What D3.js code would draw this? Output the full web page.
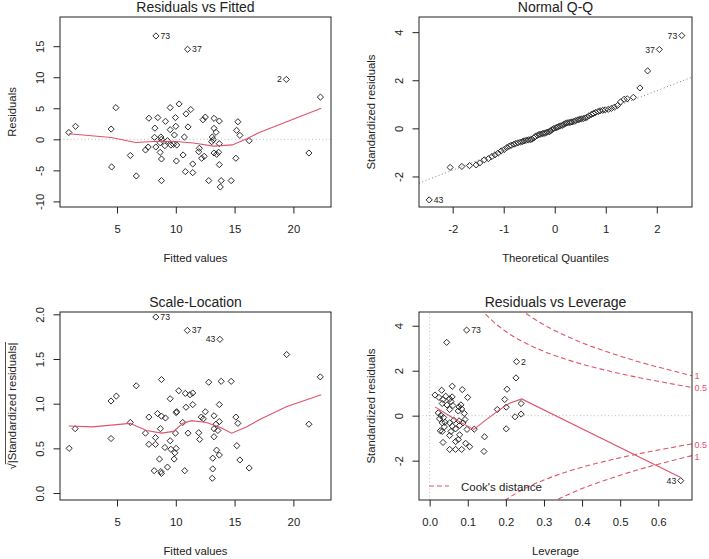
<!DOCTYPE html>
<html>
<head>
<meta charset="utf-8">
<script src="https://cdn.jsdelivr.net/npm/d3@7"></script>
<style>
  body { margin: 0; background: #fff; }
  svg text { font-family: "Liberation Sans", Arial, sans-serif; fill: #222; }
</style>
</head>
<body>
<svg id="chart" width="709" height="559"></svg>
<script>
// RESIDUALS VS FITTED
const rfFitted = [0.9, 1.47, 4.5, 4.9, 4.54, 6.13, 6.64, 7.71, 8.47, 9.12, 9.52, 10.28, 9.97, 11.27, 10.87,
  8.22, 9.52, 10.0, 11.04, 9.88, 10.73, 8.19, 8.73, 8.78, 8.67, 9.29, 9.58, 9.07, 9.8, 10.08, 8.3, 7.65, 7.42,
  8.67, 8.78, 10.05, 10.62, 11.44, 10.81, 11.44, 8.78, 12.31, 12.51, 13.25, 13.7, 13.25, 13.42, 13.1, 13.19,
  13.05, 13.7, 12.0, 11.95, 12.42, 12.2, 13.25, 13.47, 13.64, 13.7, 12.8, 13.86, 13.78, 14.71, 15.28, 15.17,
  15.45, 16.24, 15.11, 8.31, 11.0, 19.4, 22.3, 21.32]
const rfResid = [1.1, 2.1, 1.65, 5.1, -4.45, -2.6, -5.9, 3.4, 3.5, 2.9, 5.1, 5.7, 3.5, 4.8, 4.1,
  1.8, 1.55, 2.1, 2.0, 0.7, 0.37, 0.32, 0.37, 0, -0.55, -0.22, -0.92, -1.03, -0.8, -0.92, -1.24, -1.24, -1.72,
  -2.1, -3.17, -3.49, -2.52, -3.97, -5.2, -5.37, -6.65, 3.15, 3.58, 3.38, 2.94, 1.77, 1.13, 0.37, -0.06,
  -0.38, -0.7, -1.45, -1.99, -2.73, -3.05, -2.2, -2.41, -2.09, -4.08, -6.65, -6.65, -7.67, -6.65, 2.83, 1.45,
  0.64, -0.22, -3.05, 16.65, 14.5, 9.65, 6.8, -2.2]
const rfSmoothX = [0.9, 4.5, 6.6, 8.5, 10, 11.5, 13.2, 14.8, 16, 17.1, 19, 22.37]
const rfSmoothY = [0.9, 0.3, -0.5, -0.3, -0.35, -0.6, -1.1, -0.9, 0.05, 1.1, 2.5, 5.0]
const rfIds = ['73', '37', '2']
const rfIdX = [8.31, 11.0, 19.4]
const rfIdY = [16.65, 14.5, 9.65]
const rfIdSide = ['r', 'r', 'l']
const rfXTicks = [5, 10, 15, 20]
const rfYTicks = [-10, -5, 0, 5, 10, 15]

// NORMAL Q-Q
const qqTheo = [-2.46, -2.05, -1.82, -1.67, -1.54, -1.47, -1.38, -1.30, -1.23, -1.17, -1.11, -1.05, -0.99,
  -0.94, -0.89, -0.85, -0.80, -0.76, -0.72, -0.67, -0.63, -0.60, -0.56, -0.52, -0.48, -0.45, -0.41, -0.38,
  -0.34, -0.31, -0.28, -0.24, -0.21, -0.18, -0.15, -0.11, -0.08, -0.05, -0.02, 0.02, 0.05, 0.08, 0.11, 0.15,
  0.18, 0.21, 0.24, 0.28, 0.31, 0.34, 0.38, 0.41, 0.45, 0.48, 0.52, 0.56, 0.60, 0.63, 0.67, 0.72, 0.76, 0.80,
  0.85, 0.89, 0.94, 0.99, 1.05, 1.11, 1.17, 1.23, 1.29, 1.36, 1.42, 1.54, 1.67, 1.82, 2.05, 2.49]
const qqStd = [-2.975, -1.625, -1.585, -1.55, -1.52, -1.44, -1.31, -1.26, -1.17, -1.10, -1.03, -0.94, -0.88,
  -0.80, -0.74, -0.70, -0.66, -0.63, -0.60, -0.57, -0.55, -0.52, -0.50, -0.48, -0.47, -0.45, -0.40, -0.33,
  -0.29, -0.26, -0.24, -0.22, -0.21, -0.19, -0.16, -0.14, -0.10, -0.05, -0.01, 0.02, 0.05, 0.08, 0.10, 0.13,
  0.17, 0.21, 0.23, 0.24, 0.255, 0.27, 0.29, 0.32, 0.35, 0.37, 0.39, 0.41, 0.43, 0.46, 0.52, 0.58, 0.62, 0.66,
  0.70, 0.73, 0.75, 0.77, 0.79, 0.83, 0.88, 0.95, 1.10, 1.21, 1.23, 1.29, 1.68, 2.39, 3.28, 3.86]
const qqLineX = [-2.66, 2.69]
const qqLineY = [-2.28, 2.13]
const qqIds = ['73', '37', '43']
const qqIdX = [2.49, 2.05, -2.46]
const qqIdY = [3.86, 3.28, -2.975]
const qqIdSide = ['l', 'l', 'r']
const qqXTicks = [-2, -1, 0, 1, 2]
const qqYTicks = [-2, 0, 2, 4]

// SCALE-LOCATION
const slFitted = [0.93, 1.44, 4.49, 4.94, 6.64, 4.49, 6.13, 8.78, 7.42, 7.71, 8.44, 8.78, 9.12, 8.69, 8.27,
  7.71, 8.27, 8.61, 8.16, 8.78, 8.73, 9.29, 9.07, 9.52, 9.58, 10.03, 9.86, 9.92, 9.97, 10.59, 11.04, 10.76,
  9.52, 10.03, 10.08, 10.25, 10.81, 11.44, 11.21, 11.44, 10.87, 11.95, 12.03, 12.17, 12.34, 12.51, 12.8,
  13.86, 14.71, 13.7, 13.25, 13.42, 13.7, 13.25, 13.58, 13.25, 13.47, 13.7, 13.14, 13.14, 13.1, 15.11, 15.28,
  15.19, 15.45, 16.24, 21.32, 8.3, 10.98, 13.75, 19.43, 22.29]
const slRoot = [0.50, 0.72, 1.03, 1.085, 1.20, 0.61, 0.79, 1.27, 0.67, 0.85, 0.89, 0.86, 0.84, 0.72, 0.62,
  0.545, 0.545, 0.38, 0.25, 0.22, 0.24, 0.29, 0.51, 0.585, 0.49, 0.50, 0.38, 0.45, 0.67, 0.79, 0.67, 0.25,
  1.055, 0.90, 0.91, 1.145, 1.115, 1.12, 1.10, 0.99, 0.96, 0.675, 0.60, 0.85, 0.83, 0.91, 1.24,
  1.25, 1.25, 0.99, 0.865, 0.77, 0.80, 0.72, 0.70, 0.63, 0.48, 0.425, 0.39, 0.27, 0.165, 0.85, 0.78,
  0.53, 0.37, 0.28, 0.77, 1.97, 1.82, 1.72, 1.55, 1.30]
const slSmoothX = [0.9, 2.9, 6.1, 7.5, 8.8, 9.8, 10.6, 11.35, 12.6, 13.75, 14.75, 16.0, 17.1, 19.4, 22.37]
const slSmoothY = [0.75, 0.74, 0.78, 0.70, 0.67, 0.69, 0.78, 0.81, 0.79, 0.735, 0.67, 0.74, 0.82, 0.965, 1.10]
const slIds = ['73', '37', '43']
const slIdX = [8.3, 10.98, 13.75]
const slIdY = [1.97, 1.82, 1.72]
const slIdSide = ['r', 'r', 'l']
const slXTicks = [5, 10, 15, 20]
const slYTicks = [0, 0.5, 1, 1.5, 2]

// RESIDUALS VS LEVERAGE
const lvLev = [0.097, 0.0446, 0.228, 0.2265, 0.203, 0.197, 0.1775, 0.201, 0.24, 0.224, 0.24, 0.201, 0.144,
  0.1425, 0.117, 0.0139, 0.0315, 0.0593, 0.0856, 0.0997, 0.0244, 0.035, 0.042, 0.0525, 0.059, 0.033, 0.0454,
  0.056, 0.061, 0.0525, 0.077, 0.082, 0.084, 0.075, 0.091, 0.0226, 0.0297, 0.026, 0.0367, 0.040, 0.033,
  0.0525, 0.063, 0.077, 0.0787, 0.0875, 0.0927, 0.0384, 0.0594, 0.068, 0.098, 0.0279, 0.033, 0.056, 0.0525,
  0.0787, 0.075, 0.068, 0.0945, 0.105, 0.035, 0.0525, 0.068, 0.084, 0.659]
const lvStd = [3.805, 3.26, 2.40, 1.68, 1.175, 0.72, 0.275, 0.38, 0.54, -0.05, 0.07, -0.585, -0.94,
  -1.59, -0.60, 0.92, 1.13, 1.31, 1.16, 0.81, 0.81, 0.72, 0.865, 0.745, 0.835, 0.54, 0.48,
  0.63, 0.45, 0.275, 0.39, 0.48, 0.30, 0.21, 0.10, 0.125, 0.01, -0.14, -0.08, -0.29, -0.32,
  -0.32, -0.20, -0.23, -0.435, -0.32, -0.17, -0.50, -0.465, -0.585, -0.61, -0.67, -0.70, -0.70, -0.88,
  -0.85, -1.06, -1.15, -1.23, -1.38, -1.19, -1.50, -1.50, -1.50, -2.89]
const lvSmoothX = [0.014, 0.059, 0.0945, 0.116, 0.147, 0.182, 0.208, 0.2415, 0.659]
const lvSmoothY = [0.39, -0.08, -0.42, -0.61, -0.2, 0.245, 0.54, 0.745, -2.75]
const cookUp05X = [0.12, 0.14, 0.16, 0.2, 0.25, 0.3, 0.35, 0.4, 0.45, 0.5, 0.55, 0.6, 0.65, 0.69]
const cookUp05Y = [5.07, 4.64, 4.29, 3.74, 3.24, 2.86, 2.55, 2.29, 2.07, 1.87, 1.69, 1.53, 1.37, 1.25]
const cookUp1X = [0.22, 0.245, 0.27, 0.3, 0.35, 0.4, 0.45, 0.5, 0.55, 0.6, 0.65, 0.69]
const cookUp1Y = [4.98, 4.64, 4.35, 4.04, 3.61, 3.24, 2.93, 2.65, 2.39, 2.16, 1.94, 1.77]
const cookLo05X = [0.18, 0.2, 0.25, 0.3, 0.35, 0.4, 0.45, 0.5, 0.55, 0.6, 0.65, 0.69]
const cookLo05Y = [-3.99, -3.74, -3.24, -2.86, -2.55, -2.29, -2.07, -1.87, -1.69, -1.53, -1.37, -1.25]
const cookLo1X = [0.3, 0.35, 0.4, 0.45, 0.5, 0.55, 0.6, 0.65, 0.69]
const cookLo1Y = [-4.04, -3.61, -3.24, -2.93, -2.65, -2.39, -2.16, -1.94, -1.77]
const cookLabels = ['1', '0.5', '0.5', '1']
const cookLabelY = [1.75, 1.22, -1.30, -1.82]
const lvIds = ['73', '2', '43']
const lvIdX = [0.097, 0.228, 0.659]
const lvIdY = [3.805, 2.40, -2.89]
const lvIdSide = ['r', 'r', 'l']
const lvXTicks = [0, 0.1, 0.2, 0.3, 0.4, 0.5, 0.6]
const lvYTicks = [-2, 0, 2, 4]

const ink = '#222'
const red = '#DF536B'
const svg = d3.select('#chart')
const diamond = d3.symbol(d3.symbolSquare, 19)

function panel(p) {
  const x = d3.scaleLinear(p.xDomain, [p.left, p.right])
  const y = d3.scaleLinear(p.yDomain, [p.bottom, p.top])
  const g = svg.append('g')
  svg.append('clipPath').attr('id', p.id)
    .append('rect')
    .attr('x', p.left).attr('y', p.top)
    .attr('width', p.right - p.left).attr('height', p.bottom - p.top)
  const plot = g.append('g').attr('clip-path', `url(#${p.id})`)

  // EJE X
  const xa = g.append('g')
    .attr('transform', `translate(0,${p.bottom})`)
    .style('color', ink)
    .call(d3.axisBottom(x).tickValues(p.xTicks).tickFormat(p.fmtX).tickSize(6.5).tickPadding(11.5))
  xa.select('.domain').remove()
  xa.selectAll('text').attr('font-size', 11.3).attr('font-family', null)

  // EJE Y
  const ya = g.append('g')
    .attr('transform', `translate(${p.left},0)`)
    .style('color', ink)
    .call(d3.axisLeft(y).tickValues(p.yTicks).tickFormat(p.fmtY).tickSize(6.5))
  ya.select('.domain').remove()
  ya.selectAll('text')
    .attr('x', null).attr('dy', null)
    .attr('text-anchor', 'middle')
    .attr('font-size', 11.3).attr('font-family', null)
    .attr('transform', 'translate(-16,0) rotate(-90)')

  // BOX
  g.append('rect')
    .attr('x', p.left).attr('y', p.top)
    .attr('width', p.right - p.left).attr('height', p.bottom - p.top)
    .attr('fill', 'none').attr('stroke', ink).attr('stroke-width', 1)

  // TITULO Y LABELS
  g.append('text')
    .text(p.title)
    .attr('x', (p.left + p.right) / 2).attr('y', p.top - 5.5)
    .attr('text-anchor', 'middle').attr('font-size', 14)
  g.append('text')
    .text(p.xlab)
    .attr('x', (p.left + p.right) / 2).attr('y', p.bottom + 54.5)
    .attr('text-anchor', 'middle').attr('font-size', 11.3)
  const yt = `translate(${p.left - 44},${(p.top + p.bottom) / 2}) rotate(-90)`
  const yl = g.append('text')
    .text(p.ylab)
    .attr('transform', yt)
    .attr('text-anchor', 'middle').attr('font-size', 11.3)
  if (p.radical) {
    const node = yl.node()
    const total = node.getComputedTextLength()
    const rw = node.getSubStringLength(0, 1)
    g.append('line')
      .attr('transform', yt)
      .attr('x1', -total / 2 + rw * 0.85).attr('x2', total / 2 + 0.5)
      .attr('y1', -10.5).attr('y2', -10.5)
      .attr('stroke', ink).attr('stroke-width', 0.8)
  }
  return { x, y, g, plot }
}

function points(pan, xs, ys) {
  pan.plot.append('g')
    .selectAll('path')
    .data(d3.zip(xs, ys))
    .join('path')
    .attr('d', diamond)
    .attr('transform', d => `translate(${pan.x(d[0])},${pan.y(d[1])}) rotate(45)`)
    .attr('fill', 'none')
    .attr('stroke', ink)
    .attr('stroke-width', 0.9)
}

function path(pan, xs, ys, color, dash, curve) {
  const line = d3.line().x(d => pan.x(d[0])).y(d => pan.y(d[1])).curve(curve || d3.curveLinear)
  pan.plot.append('path')
    .attr('d', line(d3.zip(xs, ys)))
    .attr('fill', 'none')
    .attr('stroke', color)
    .attr('stroke-width', dash === '1,2.5' ? 1 : 1.1)
    .attr('stroke-dasharray', dash)
}

function ids(pan, texts, xs, ys, sides) {
  pan.g.append('g')
    .selectAll('text')
    .data(texts)
    .join('text')
    .text(d => d)
    .attr('x', (d, i) => pan.x(xs[i]) + (sides[i] === 'r' ? 4.5 : -4.5))
    .attr('y', (d, i) => pan.y(ys[i]))
    .attr('dy', '0.35em')
    .attr('text-anchor', (d, i) => sides[i] === 'r' ? 'start' : 'end')
    .attr('font-size', 8.7)
}

const fmtInt = d => String(d)
const fmtOne = d => d.toFixed(1)

// PANEL 1
const rf = panel({ id: 'c1', left: 60, right: 331, top: 17, bottom: 207,
  xDomain: [0.15, 23.2], yDomain: [-10.9, 19.7], xTicks: rfXTicks, yTicks: rfYTicks,
  fmtX: fmtInt, fmtY: fmtInt, title: 'Residuals vs Fitted', xlab: 'Fitted values', ylab: 'Residuals' })
path(rf, rf.x.domain(), [0, 0], '#BEBEBE', '1,2.5')
points(rf, rfFitted, rfResid)
path(rf, rfSmoothX, rfSmoothY, red)
ids(rf, rfIds, rfIdX, rfIdY, rfIdSide)

// PANEL 2
const qq = panel({ id: 'c2', left: 419, right: 692, top: 17, bottom: 207,
  xDomain: [-2.66, 2.69], yDomain: [-3.27, 4.63], xTicks: qqXTicks, yTicks: qqYTicks,
  fmtX: fmtInt, fmtY: fmtInt, title: 'Normal Q-Q', xlab: 'Theoretical Quantiles', ylab: 'Standardized residuals' })
path(qq, qqLineX, qqLineY, '#7F7F7F', '1,2.5')
points(qq, qqTheo, qqStd)
ids(qq, qqIds, qqIdX, qqIdY, qqIdSide)

// PANEL 3
const sl = panel({ id: 'c3', left: 60, right: 331, top: 312, bottom: 500,
  xDomain: [0.15, 23.2], yDomain: [-0.078, 2.026], xTicks: slXTicks, yTicks: slYTicks,
  fmtX: fmtInt, fmtY: fmtOne, title: 'Scale-Location', xlab: 'Fitted values',
  ylab: '\u221A|Standardized residuals|', radical: true })
points(sl, slFitted, slRoot)
path(sl, slSmoothX, slSmoothY, red)
ids(sl, slIds, slIdX, slIdY, slIdSide)

// PANEL 4
const lv = panel({ id: 'c4', left: 419, right: 692, top: 312, bottom: 500,
  xDomain: [-0.028, 0.6885], yDomain: [-3.75, 4.61], xTicks: lvXTicks, yTicks: lvYTicks,
  fmtX: fmtOne, fmtY: fmtInt, title: 'Residuals vs Leverage', xlab: 'Leverage', ylab: 'Standardized residuals' })
path(lv, lv.x.domain(), [0, 0], '#BEBEBE', '1,2.5')
path(lv, [0, 0], lv.y.domain(), '#BEBEBE', '1,2.5')
points(lv, lvLev, lvStd)
path(lv, lvSmoothX, lvSmoothY, red)
path(lv, cookUp05X, cookUp05Y, red, '5,3', d3.curveMonotoneX)
path(lv, cookUp1X, cookUp1Y, red, '5,3', d3.curveMonotoneX)
path(lv, cookLo05X, cookLo05Y, red, '5,3', d3.curveMonotoneX)
path(lv, cookLo1X, cookLo1Y, red, '5,3', d3.curveMonotoneX)
ids(lv, lvIds, lvIdX, lvIdY, lvIdSide)

// LABELS COOK
lv.g.append('g')
  .selectAll('text')
  .data(cookLabels)
  .join('text')
  .text(d => d)
  .attr('x', lv.x.range()[1] + 2.5)
  .attr('y', (d, i) => lv.y(cookLabelY[i]))
  .attr('dy', '0.35em')
  .attr('font-size', 9)
  .style('fill', red)

// LEYENDA
lv.g.append('line')
  .attr('x1', 429).attr('x2', 449).attr('y1', 486).attr('y2', 486)
  .attr('stroke', red).attr('stroke-width', 1.1).attr('stroke-dasharray', '5,3')
lv.g.append('text')
  .text("Cook's distance")
  .attr('x', 461).attr('y', 491)
  .attr('font-size', 11.5)
</script>
</body>
</html>
